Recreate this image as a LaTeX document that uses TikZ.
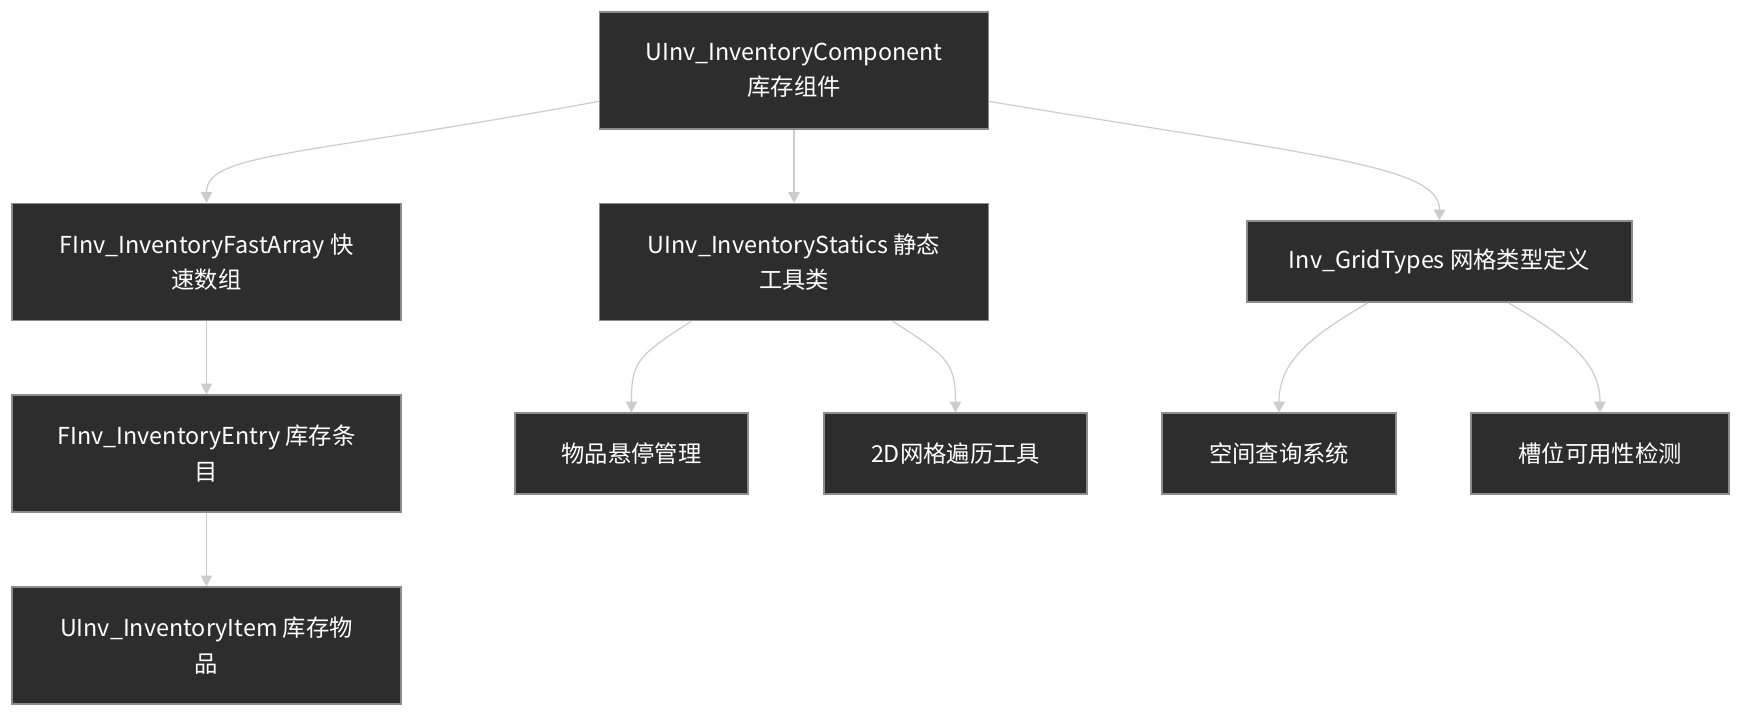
\documentclass[tikz,border=0pt]{standalone}
\usepackage{fontspec}
\setmainfont{Noto Sans CJK SC}
\usepackage{tikz}
\usetikzlibrary{arrows.meta,positioning}

\definecolor{boxfill}{HTML}{2D2D2D}
\definecolor{boxline}{HTML}{8C8C8C}
\definecolor{edgeline}{HTML}{CCCCCC}

\tikzset{
  box/.style={draw=boxline, fill=boxfill, text=white, line width=1pt,
    inner sep=0pt, align=center, font=\fontsize{17.5pt}{26.5pt}\selectfont},
  bigbox/.style={box, minimum width=291.75pt, minimum height=87.75pt},
  smallbox/.style={box, minimum height=60.75pt},
  link/.style={draw=edgeline, line width=0.9pt, -{Triangle[length=8pt,width=8.5pt]}}
}

\begin{document}
\begin{tikzpicture}[x=0.75pt,y=-0.75pt]
      \path[fill=white, use as bounding box] (0,0) rectangle (1741,717);
      \node[bigbox] (comp) at (794,70.5) {UInv\_InventoryComponent\\库存组件}; % top
      \node[bigbox] (fastarr) at (206.5,262) {FInv\_InventoryFastArray 快\\速数组}; % left column
      \node[bigbox] (entry) at (206.5,453.5) {FInv\_InventoryEntry 库存条\\目};
      \node[bigbox] (item) at (206.5,645.5) {UInv\_InventoryItem 库存物\\品};
      \node[bigbox] (statics) at (794,262) {UInv\_InventoryStatics 静态\\工具类}; % middle
      \node[smallbox, minimum width=174.75pt] (hover) at (631.5,453.5) {物品悬停管理};
      \node[smallbox, minimum width=197.25pt] (walk) at (955.5,453.5) {2D网格遍历工具};
      \node[smallbox, minimum width=288.75pt] (gridtypes) at (1439.5,261.5) {Inv\_GridTypes 网格类型定义}; % right
      \node[smallbox, minimum width=175.5pt] (query) at (1279,453.5) {空间查询系统};
      \node[smallbox, minimum width=193.5pt] (slot) at (1600,453.5) {槽位可用性检测};

      % edges
      \draw[link] (comp.189.5) .. controls +(-300,55) and +(0,-50) .. (fastarr.north);
      \draw[link] (comp.south) -- (statics.north);
      \draw[link] (comp.351.7) .. controls +(330,55) and +(0,-55) .. (gridtypes.north);
      \draw[link] (fastarr.south) -- (entry.north);
      \draw[link] (entry.south) -- (item.north);
      \draw[link] (statics.210.4) .. controls +(-55,35) and +(0,-50) .. (hover.north);
      \draw[link] (statics.329.6) .. controls +(55,35) and +(0,-50) .. (walk.north);
      \draw[link] (gridtypes.210.6) .. controls +(-60,35) and +(0,-50) .. (query.north);
      \draw[link] (gridtypes.329.4) .. controls +(60,35) and +(0,-50) .. (slot.north);
    \end{tikzpicture}
\end{document}
